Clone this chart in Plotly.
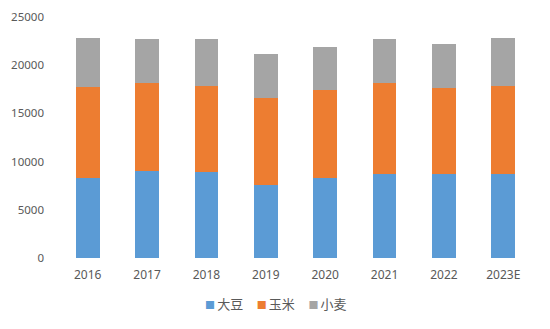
import plotly.graph_objects as go

years = ["2016", "2017", "2018", "2019", "2020", "2021", "2022", "2023E"]
soybean = [8330, 8990, 8920, 7540, 8260, 8680, 8680, 8680]
corn = [9370, 9130, 8920, 9080, 9190, 9470, 8980, 9190]
wheat = [5080, 4560, 4840, 4530, 4430, 4560, 4530, 4940]

names = ["大豆", "玉米", "小麦"]
colors = ["#5B9BD5", "#ED7D31", "#A5A5A5"]

fig = go.Figure()
for name, vals, c in zip(names, [soybean, corn, wheat], colors):
    fig.add_trace(go.Bar(x=years, y=vals, name=name, marker_color=c,
                         marker_line_width=0, width=0.4))

# compact legend, as in the original (small square right next to the label)
legend_text = "&nbsp;&nbsp;&nbsp;&nbsp;".join(
    f"<span style='color:{c};font-size:10px'>■</span>&#8201;{n}" for n, c in zip(names, colors)
)
fig.add_annotation(text=legend_text, xref="paper", yref="paper", x=0.458, y=-0.19,
                   xanchor="center", yanchor="middle", showarrow=False,
                   font=dict(size=13, color="#595959"))

font_family = "Noto Sans, Noto Sans CJK SC, sans-serif"
fig.update_layout(
    barmode="stack",
    width=550, height=329,
    margin=dict(l=58, r=17, t=17, b=71),
    paper_bgcolor="white", plot_bgcolor="white",
    font=dict(family=font_family, size=12, color="#595959"),
    showlegend=False,
    xaxis=dict(showgrid=False, showline=False, ticks="", tickfont=dict(size=12),
               ticklabelstandoff=8, automargin=False),
    yaxis=dict(range=[0, 25000], dtick=5000, tickformat="d", showgrid=False, showline=False,
               zeroline=False, ticks="", tickfont=dict(size=11.5), ticklabelstandoff=13,
               automargin=False),
)
fig.write_html("out.html")
